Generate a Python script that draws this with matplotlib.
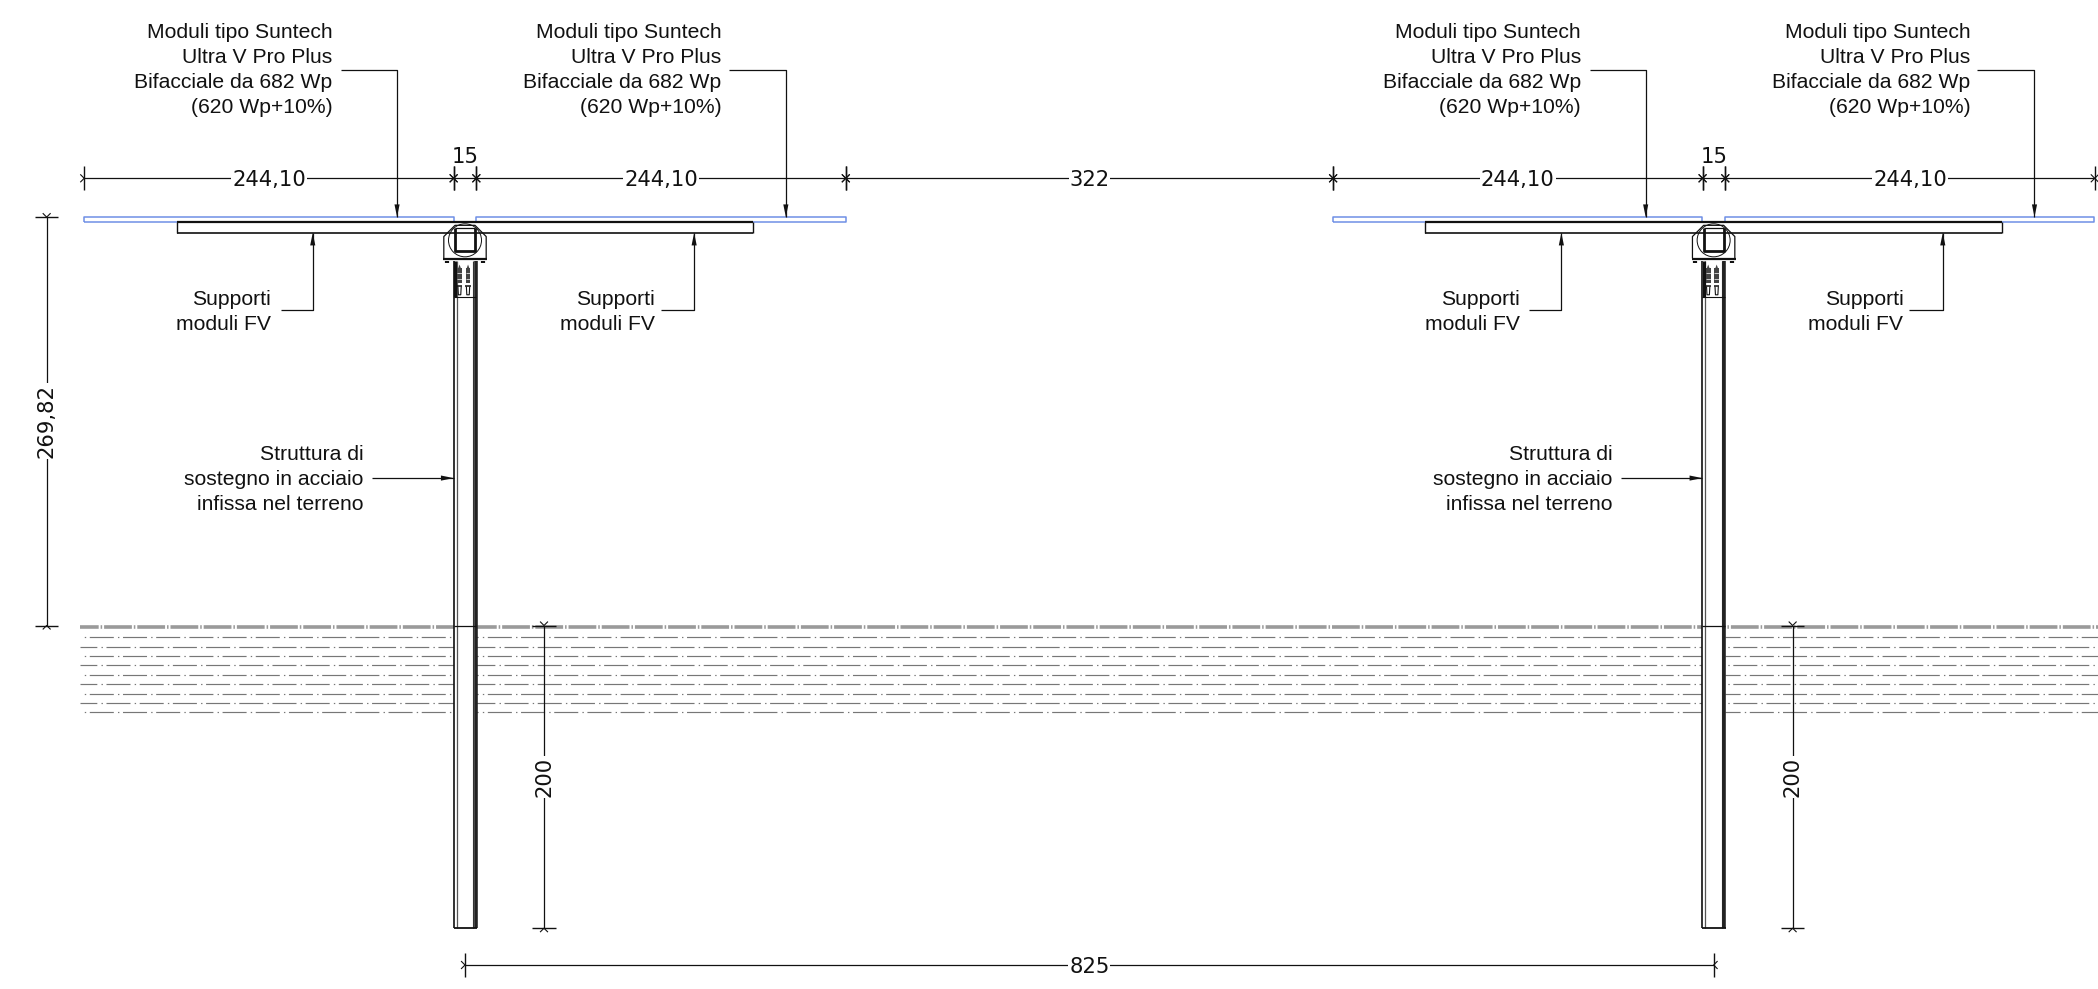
#Sezione strutture FV: quote in cm, il disegno e' tutto in scala
import matplotlib
matplotlib.use("Agg")
import matplotlib.pyplot as plt
from matplotlib.patches import Circle

plt.rcParams['font.family'] = ['Liberation Sans', 'DejaVu Sans']
plt.rcParams['lines.scale_dashes'] = False

# quote
pannello = 244.10
giunto = 15
interfila = 322
passo = 825
altezza = 269.82
infissione = 200

etichette_quote = ["244,10", "15", "244,10", "322", "244,10", "15", "244,10"]
quote_oriz = [pannello, giunto, pannello, interfila, pannello, giunto, pannello]

testo_moduli = "Moduli tipo Suntech\nUltra V Pro Plus\nBifacciale da 682 Wp\n(620 Wp+10%)"
testo_supporti = "Supporti\nmoduli FV"
testo_struttura = "Struttura di\nsostegno in acciaio\ninfissa nel terreno"

supporto_mezzo = 190.6
pannello_sp = 3.3
supporto_sp = 7.0
righe_terreno = [7.4, 14.2, 19.9, 26.1, 32.7, 38.6, 45.4, 51.4, 57.1]

# richiami: testo, inizio linea, punta (cm dall'asse del palo)
richiami_moduli = [(-87.6, -82.0, -44.9), (169.6, 174.3, 212.0)]
richiami_supporti = [(-128.0, -121.9, -100.6), (125.4, 129.4, 151.4)]

SC = 1.5135
X0 = 465.0
Y0 = 625.5
W, H = 2098, 989
NERO = "#111111"
GRIGIO = "#777777"
BLU = "#6f8fe6"

fig = plt.figure(figsize=(W / 100, H / 100), dpi=100)
ax = fig.add_axes([0, 0, 1, 1])
ax.set_xlim(-X0 / SC, (W - X0) / SC)
ax.set_ylim(-(H - Y0) / SC, Y0 / SC)
ax.axis('off')


def linea(xs, ys, lw=0.9, col=NERO, z=3, **kw):
    ax.plot(xs, ys, color=col, lw=lw, zorder=z, solid_capstyle='butt', **kw)


def freccia(x, y, dx, dy):
    # punta piena
    L, B = 8.4, 1.7
    ax.fill([x, x - dx * L - dy * B, x - dx * L + dy * B],
            [y, y - dy * L + dx * B, y - dy * L - dx * B], color=NERO, lw=0, zorder=5)


def tacca(x, y, oriz, lati):
    # tacca di quota con le barbette
    T, b = 7.8, 2.6
    if oriz:
        linea([x, x], [y - T, y + T], lw=1.0)
        for s in lati:
            linea([x + s * b, x, x + s * b], [y + b, y, y - b], lw=0.8)
    else:
        linea([x - T, x + T], [y, y], lw=1.0)
        for s in lati:
            linea([x - b, x, x + b], [y + s * b, y, y + s * b], lw=0.8)


def quota_x(x1, x2, y, testo, lati1=(-1,), lati2=(1,), sopra=False):
    linea([x1, x2], [y, y])
    tacca(x1, y, True, lati1)
    tacca(x2, y, True, lati2)
    xm = (x1 + x2) / 2
    if sopra:
        ax.text(xm, y + 10.3, testo, family='DejaVu Sans', fontsize=15.2, color=NERO,
                ha='center', va='baseline', zorder=6)
    else:
        ax.text(xm, y, testo, family='DejaVu Sans', fontsize=15.2, color=NERO, ha='center',
                va='center_baseline', zorder=6,
                bbox=dict(fc='white', ec='none', pad=0.6))


def quota_y(x, y1, y2, testo):
    linea([x, x], [y1, y2])
    tacca(x, y1, False, (-1,))
    tacca(x, y2, False, (1,))
    ax.text(x, (y1 + y2) / 2, testo, family='DejaVu Sans', fontsize=15.2, color=NERO,
            rotation=90, ha='center', va='center', zorder=6,
            bbox=dict(fc='white', ec='none', pad=0.6))


def testo_dx(x, y, testo):
    ax.text(x, y, testo, fontsize=15.2, color=NERO, ha='right', va='center',
            linespacing=1.40, zorder=6)


def struttura(cx):
    ax.fill_between([cx - 7.5, cx + 7.5], -infissione, 240, color='white', zorder=2, lw=0)
    # palo
    linea([cx - 7.5, cx - 7.5], [-infissione, 240.6], lw=1.2)
    linea([cx - 5.6, cx - 5.6], [-infissione, 240.6], lw=0.9, col="#555555")
    linea([cx + 5.6, cx + 5.6], [-infissione, 240.6], lw=0.8, col="#333333")
    linea([cx + 7.0, cx + 7.0], [-infissione, 240.6], lw=2.6, col="#222222")
    linea([cx - 7.5, cx + 8], [-infissione, -infissione], lw=1.3)
    linea([cx - 7.5, cx + 7.5], [0, 0], lw=0.9)
    # testa del palo
    linea([cx - 6.6, cx - 6.6], [216.8, 240.6], lw=2.2)
    linea([cx - 7.5, cx + 7.5], [216.8, 216.8], lw=0.8)
    for bx in (-3.6, 2.0):
        ax.fill([cx + bx - 1.6, cx + bx + 1.6, cx + bx + 1.6, cx + bx - 1.6],
                [226, 226, 236, 236], color="#444444", lw=0, zorder=4)
        ax.fill([cx + bx - 0.9, cx + bx + 0.9, cx + bx],
                [236, 236, 238.5], color="#444444", lw=0, zorder=4)
        linea([cx + bx - 1.6, cx + bx + 1.6], [229, 229], lw=0.5, col='white', z=5)
        linea([cx + bx - 1.6, cx + bx + 1.6], [233, 233], lw=0.5, col='white', z=5)
        linea([cx + bx - 1.8, cx + bx + 1.8], [224.2, 224.2], lw=1.1)
        linea([cx + bx - 1.1, cx + bx - 0.8, cx + bx + 0.8, cx + bx + 1.1],
              [224, 218.5, 218.5, 224], lw=0.8)
    # sella
    linea([cx - 14, cx - 14, cx - 6.6, cx + 6.6, cx + 14, cx + 14],
          [242.6, 257, 264.4, 264.4, 257, 242.6], lw=0.9)
    linea([cx - 14.6, cx + 14.6], [242, 242], lw=1.6)
    for bx in (-12, 12):
        linea([cx + bx, cx + bx], [241, 239.2], lw=3.0)
    ax.add_patch(Circle((cx, 254.5), 10.9, fc='none', ec=NERO, lw=0.7, zorder=4))
    linea([cx - 6.6, cx - 6.6, cx + 6.6, cx + 6.6], [262.4, 247.4, 247.4, 262.4], lw=2.0, z=4)
    linea([cx - 6.6, cx + 6.6], [262.4, 262.4], lw=0.9, z=4)
    # pannelli
    for a, b in ((cx - 7.5 - pannello, cx - 7.5), (cx + 7.5, cx + 7.5 + pannello)):
        linea([a, a, b, b, a], [altezza - pannello_sp, altezza, altezza, altezza - pannello_sp,
                                altezza - pannello_sp], lw=1.1, col=BLU)
    # arcareccio
    ybase = altezza - pannello_sp - supporto_sp
    ax.fill_between([cx - supporto_mezzo, cx + supporto_mezzo], ybase,
                    altezza - pannello_sp, color='white', zorder=2.5, lw=0)
    linea([cx - supporto_mezzo, cx + supporto_mezzo], [altezza - pannello_sp] * 2, lw=1.6, z=4)
    linea([cx - supporto_mezzo, cx + supporto_mezzo], [ybase] * 2, lw=1.2, z=4)
    for s in (-1, 1):
        linea([cx + s * supporto_mezzo] * 2, [ybase, altezza - pannello_sp], lw=1.0, z=4)

    # richiami
    yl = (Y0 - 69.5) / SC
    for x_t, x_l, x_f in richiami_moduli:
        testo_dx(cx + x_t, 367.3, testo_moduli)
        linea([cx + x_l, cx + x_f, cx + x_f], [yl, yl, altezza], lw=0.9)
        freccia(cx + x_f, altezza, 0, -1)
    for x_t, x_l, x_f in richiami_supporti:
        testo_dx(cx + x_t, 207.2, testo_supporti)
        linea([cx + x_l, cx + x_f, cx + x_f], [208.3, 208.3, ybase], lw=0.9)
        freccia(cx + x_f, ybase, 0, 1)
    testo_dx(cx - 67, 96.3, testo_struttura)
    linea([cx - 61.4, cx - 7.5], [97.4, 97.4], lw=0.9)
    freccia(cx - 7.5, 97.4, 1, 0)


def fase(xa, x_rif):
    # fase del tratteggio in punti, misurata dal tratto di riferimento
    periodo_px = 33.2
    return (((xa * SC + X0) - x_rif) % periodo_px) * 0.72


# terreno
x_ini = (80 - X0) / SC
x_fin = (W - X0) / SC
interruzioni = [(x_ini, -7.5), (7.5, passo - 7.5), (passo + 7.5, x_fin)]
motivo = (17.3, 3.0, 1.0, 2.6)
motivo_top = (20.0, 1.4, 1.1, 1.4)
for a, b in interruzioni:
    for i, r in enumerate(righe_terreno):
        rif = 89.3 if i % 2 == 0 else 106.0
        xa = a
        if i % 2 == 0 and a == x_ini:
            xa = (84 - X0) / SC
        ax.plot([xa, b], [-r, -r], color=GRIGIO, lw=0.85, ls=(fase(xa, rif), motivo), zorder=1)
    ax.plot([a, b], [-0.7, -0.7], color="#9a9a9a", lw=2.6, ls=(fase(a, 70.9), motivo_top), zorder=1)

for c in (0, passo):
    struttura(c)

# quote
y_quote = (Y0 - 178.3) / SC
x = -giunto / 2 - pannello
for i, (q, e) in enumerate(zip(quote_oriz, etichette_quote)):
    quota_x(x, x + q, y_quote, e, lati1=(-1, 1) if i else (-1,), lati2=(-1, 1), sopra=q == giunto)
    x = x + q

quota_x(0, passo, (Y0 - 965) / SC, "825")
quota_y(-276.4, 0, altezza, "269,82")
for c in (0, passo):
    quota_y(c + 52.2, -infissione, 0, "200")

fig.savefig("out.png", dpi=100, facecolor='white')
